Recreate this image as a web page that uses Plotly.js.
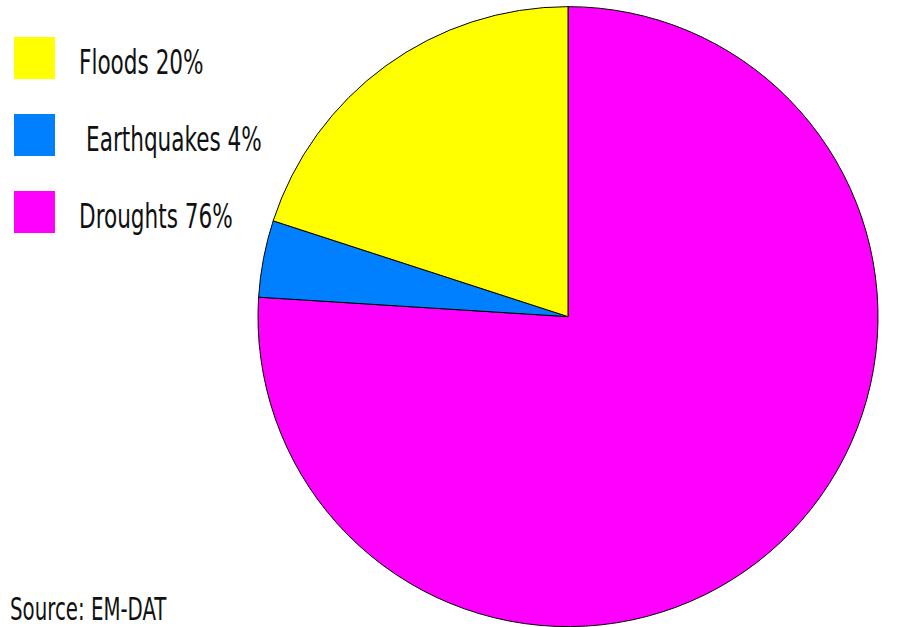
<!DOCTYPE html>
<html>
<head>
<meta charset="utf-8">
<script src="https://cdn.plot.ly/plotly-3.0.1.min.js"></script>
<style>
html,body{margin:0;padding:0;background:#fff;}
#chart{width:911px;height:627px;}
svg text{font-stretch:condensed !important;}
#chart .annotation-text{transform-box:fill-box;transform-origin:center;transform:scaleY(1.42);}
</style>
</head>
<body>
<div id="chart"></div>
<script>
const labels = ["Floods", "Earthquakes", "Droughts"];
const values = [20, 4, 76];
const colors = ["#FFFF00", "#0080FF", "#FF00FF"];
const sourceText = "Source: EM-DAT";

const W = 911, H = 627;
const FONT = "'DejaVu Sans', sans-serif";

const shapes = [];
const annotations = [];
labels.forEach((lab, i) => {
  const top = 37 + i * 77;
  shapes.push({
    type: "rect", xref: "paper", yref: "paper",
    x0: 14 / W, x1: 55 / W,
    y0: 1 - (top + 42) / H, y1: 1 - top / H,
    fillcolor: colors[i], line: {width: 0}
  });
  annotations.push({
    xref: "paper", yref: "paper",
    x: (i === 1 ? 84 : 77) / W, y: 1 - (top + 26) / H,
    xanchor: "left", yanchor: "middle",
    text: lab + " " + values[i] + "%",
    showarrow: false,
    font: {family: FONT, size: 24, color: "#111"}
  });
});
annotations.push({
  xref: "paper", yref: "paper",
  x: 8 / W, y: 1 - 609 / H,
  xanchor: "left", yanchor: "middle",
  text: sourceText, showarrow: false,
  font: {family: FONT, size: 22, color: "#111"}
});

// pie drawn clockwise from 12 o'clock in reverse order so that
// Floods ends at 12 o'clock on the left side, as in the reference
const pieLabels = labels.slice().reverse();
const pieValues = values.slice().reverse();
const pieColors = colors.slice().reverse();

const data = [{
  type: "pie",
  labels: pieLabels,
  values: pieValues,
  sort: false,
  direction: "clockwise",
  rotation: 0,
  marker: {colors: pieColors, line: {color: "#000", width: 1}},
  textinfo: "none",
  hoverinfo: "none",
  showlegend: false,
  domain: {x: [258 / W, 878 / W], y: [0, 0.99]}
}];

const layout = {
  width: W, height: H,
  margin: {l: 0, r: 0, t: 0, b: 0},
  paper_bgcolor: "#fff",
  showlegend: false,
  shapes: shapes,
  annotations: annotations
};

Plotly.newPlot("chart", data, layout, {displayModeBar: false, staticPlot: true});
</script>
</body>
</html>
